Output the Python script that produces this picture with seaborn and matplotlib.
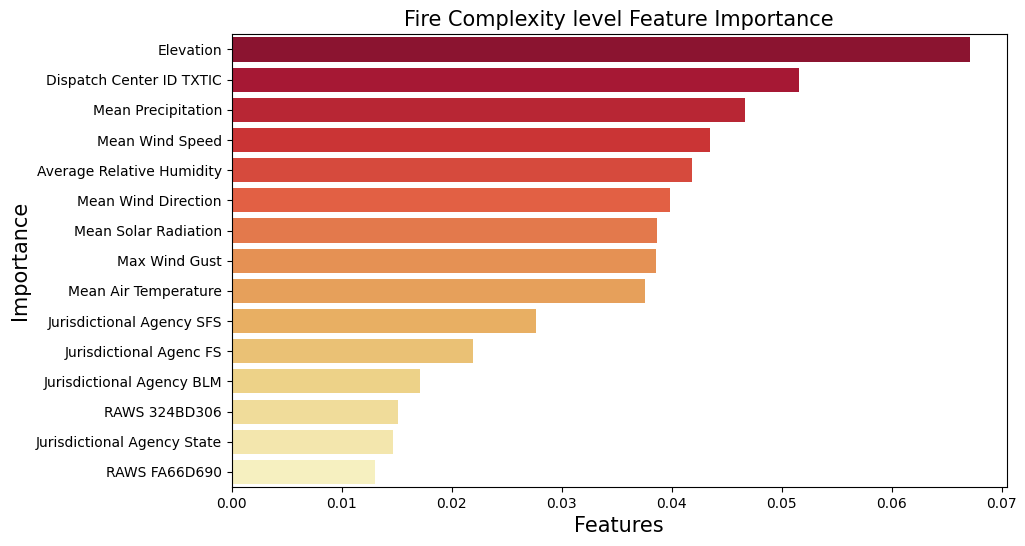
import seaborn as sns
import pandas as pd
import matplotlib
matplotlib.use("Agg")
import matplotlib.pyplot as plt

features = [
    "Elevation",
    "Dispatch Center ID TXTIC",
    "Mean Precipitation",
    "Mean Wind Speed",
    "Average Relative Humidity",
    "Mean Wind Direction",
    "Mean Solar Radiation",
    "Max Wind Gust",
    "Mean Air Temperature",
    "Jurisdictional Agency SFS",
    "Jurisdictional Agenc FS",
    "Jurisdictional Agency BLM",
    "RAWS 324BD306",
    "Jurisdictional Agency State",
    "RAWS FA66D690",
]
importance = [
    0.0671, 0.0516, 0.0467, 0.0435, 0.0419, 0.0399, 0.0387, 0.0386,
    0.0376, 0.0277, 0.0219, 0.0171, 0.0151, 0.0147, 0.0130,
]

df = pd.DataFrame({"feature": features, "importance": importance})

fig, ax = plt.subplots(figsize=(10.25, 5.46), dpi=100)
fig.subplots_adjust(left=0.226, right=0.982, top=0.937, bottom=0.108)

sns.barplot(data=df, x="importance", y="feature", hue="feature",
            palette="YlOrRd_r", legend=False, ax=ax)

ax.set_title("Fire Complexity level Feature Importance", fontsize=15)
ax.set_xlabel("Features", fontsize=15)
ax.set_ylabel("Importance", fontsize=15)

fig.savefig("out.png", dpi=100)
